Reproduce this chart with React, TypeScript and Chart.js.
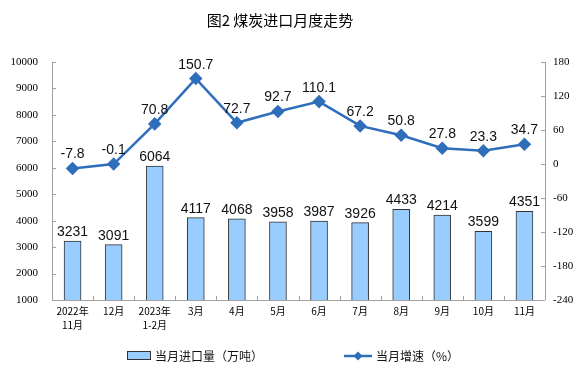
import React, { useEffect, useRef } from "react";
import { Chart, registerables } from "chart.js";

Chart.register(...registerables);

const categories: (string | string[])[] = [
  ["2022年", "11月"], "12月", ["2023年", "1-2月"], "3月", "4月", "5月", "6月", "7月", "8月", "9月", "10月", "11月",
];
const importVolume = [3231, 3091, 6064, 4117, 4068, 3958, 3987, 3926, 4433, 4214, 3599, 4351];
const growthRate = [-7.8, -0.1, 70.8, 150.7, 72.7, 92.7, 110.1, 67.2, 50.8, 27.8, 23.3, 34.7];
const titleText = "图2 煤炭进口月度走势";
const barLegend = "当月进口量（万吨）";
const lineLegend = "当月增速（%）";

const BAR_FILL = "#99CCFF";
const BAR_BORDER = "#333333";
const LINE_COLOR = "#2F6EBA";
const AXIS_COLOR = "#A0A0A0";

const decorPlugin = {
  id: "decor",
  afterDatasetsDraw(chart: any) {
    const ctx = chart.ctx;
    ctx.save();
    ctx.fillStyle = "#111";
    ctx.font = '14px "Liberation Sans", Arial, sans-serif';
    ctx.textAlign = "center";
    ctx.textBaseline = "alphabetic";
    const barMeta = chart.getDatasetMeta(0);
    barMeta.data.forEach((el: any, i: number) => {
      ctx.fillText(String(importVolume[i]), el.x, el.y - 5);
    });
    const lineMeta = chart.getDatasetMeta(1);
    lineMeta.data.forEach((el: any, i: number) => {
      ctx.fillText(growthRate[i].toFixed(1), el.x, el.y - 10);
    });
    ctx.restore();
  },
  afterDraw(chart: any) {
    const ctx = chart.ctx;
    const area = chart.chartArea;
    ctx.save();
    ctx.strokeStyle = AXIS_COLOR;
    ctx.lineWidth = 1;
    ctx.beginPath();
    ctx.moveTo(Math.round(area.left) + 0.5, area.top);
    ctx.lineTo(Math.round(area.left) + 0.5, area.bottom);
    ctx.moveTo(Math.round(area.right) + 0.5, area.top);
    ctx.lineTo(Math.round(area.right) + 0.5, area.bottom);
    ctx.moveTo(area.left, Math.round(area.bottom) + 0.5);
    ctx.lineTo(area.right, Math.round(area.bottom) + 0.5);
    ctx.stroke();
    const yL = chart.scales.y;
    const yR = chart.scales.y1;
    const x = chart.scales.x;
    ctx.beginPath();
    yL.ticks.forEach((t: any) => {
      const py = Math.round(yL.getPixelForValue(t.value)) + 0.5;
      ctx.moveTo(area.left, py);
      ctx.lineTo(area.left + 4, py);
    });
    yR.ticks.forEach((t: any) => {
      const py = Math.round(yR.getPixelForValue(t.value)) + 0.5;
      ctx.moveTo(area.right, py);
      ctx.lineTo(area.right - 4, py);
    });
    for (let i = 1; i < categories.length; i++) {
      const px = Math.round((x.getPixelForValue(i - 1) + x.getPixelForValue(i)) / 2) + 0.5;
      ctx.moveTo(px, area.bottom);
      ctx.lineTo(px, area.bottom - 4);
    }
    ctx.stroke();

    ctx.fillStyle = "#000";
    ctx.font = '15px "Noto Sans CJK SC", sans-serif';
    ctx.textAlign = "center";
    ctx.textBaseline = "middle";
    ctx.fillText(titleText, 280, 20);

    ctx.font = '12px "Noto Sans CJK SC", sans-serif';
    ctx.textAlign = "left";
    ctx.fillStyle = BAR_FILL;
    ctx.fillRect(127.5, 351.5, 23, 8);
    ctx.strokeStyle = BAR_BORDER;
    ctx.strokeRect(127.5, 351.5, 23, 8);
    ctx.fillStyle = "#111";
    ctx.fillText(barLegend, 155, 356);

    ctx.strokeStyle = LINE_COLOR;
    ctx.lineWidth = 2.5;
    ctx.beginPath();
    ctx.moveTo(344, 356);
    ctx.lineTo(372, 356);
    ctx.stroke();
    ctx.fillStyle = LINE_COLOR;
    ctx.beginPath();
    ctx.moveTo(358, 351.5);
    ctx.lineTo(362.5, 356);
    ctx.lineTo(358, 360.5);
    ctx.lineTo(353.5, 356);
    ctx.closePath();
    ctx.fill();
    ctx.fillStyle = "#111";
    ctx.fillText(lineLegend, 376, 356);
    ctx.restore();
  },
};

export default function App() {
  const ref = useRef<HTMLCanvasElement>(null);
  useEffect(() => {
    if (!ref.current) return;
    const chart = new Chart(ref.current, {
      type: "bar",
      data: {
        labels: categories as any,
        datasets: [
          {
            type: "bar",
            label: barLegend,
            data: importVolume,
            backgroundColor: BAR_FILL,
            borderColor: BAR_BORDER,
            borderWidth: 1,
            barThickness: 17,
            yAxisID: "y",
            order: 2,
          },
          {
            type: "line",
            label: lineLegend,
            data: growthRate,
            borderColor: LINE_COLOR,
            backgroundColor: LINE_COLOR,
            borderWidth: 2.5,
            pointStyle: "rectRot",
            pointRadius: 5,
            pointBackgroundColor: LINE_COLOR,
            pointBorderColor: LINE_COLOR,
            tension: 0,
            yAxisID: "y1",
            order: 1,
          } as any,
        ],
      },
      options: {
        responsive: false,
        animation: false,
        layout: { padding: { top: 62, bottom: 40, left: 0, right: 0 } },
        plugins: {
          legend: { display: false },
          title: { display: false },
          tooltip: { enabled: false },
        },
        scales: {
          x: {
            offset: true,
            grid: { display: false, drawTicks: false },
            border: { display: false },
            ticks: {
              color: "#000",
              font: { family: '"Noto Sans CJK SC", sans-serif', size: 10, lineHeight: 1.4 },
              padding: 4,
              maxRotation: 0,
              autoSkip: false,
            },
            afterFit(scale: any) {
              scale.height = 31;
            },
          },
          y: {
            position: "left",
            min: 1000,
            max: 10000,
            grid: { display: false, drawTicks: false },
            border: { display: false },
            ticks: {
              stepSize: 1000,
              color: "#000",
              font: { family: '"Liberation Serif", "Times New Roman", serif', size: 11 },
              padding: 14,
              callback: (v: any) => String(v),
            },
            afterFit(scale: any) {
              scale.width = 52;
            },
          },
          y1: {
            position: "right",
            min: -240,
            max: 180,
            grid: { display: false, drawTicks: false },
            border: { display: false },
            ticks: {
              stepSize: 60,
              color: "#000",
              font: { family: '"Liberation Serif", "Times New Roman", serif', size: 11 },
              padding: 8,
              callback: (v: any) => String(v),
            },
            afterFit(scale: any) {
              scale.width = 39;
            },
          },
        },
      },
      plugins: [decorPlugin],
    });
    return () => chart.destroy();
  }, []);
  return (
    <div style={{ position: "fixed", left: 0, top: 0, width: 584, height: 371, background: "#fff" }}>
      <canvas ref={ref} width={584} height={371} style={{ width: 584, height: 371, display: "block" }} />
    </div>
  );
}
